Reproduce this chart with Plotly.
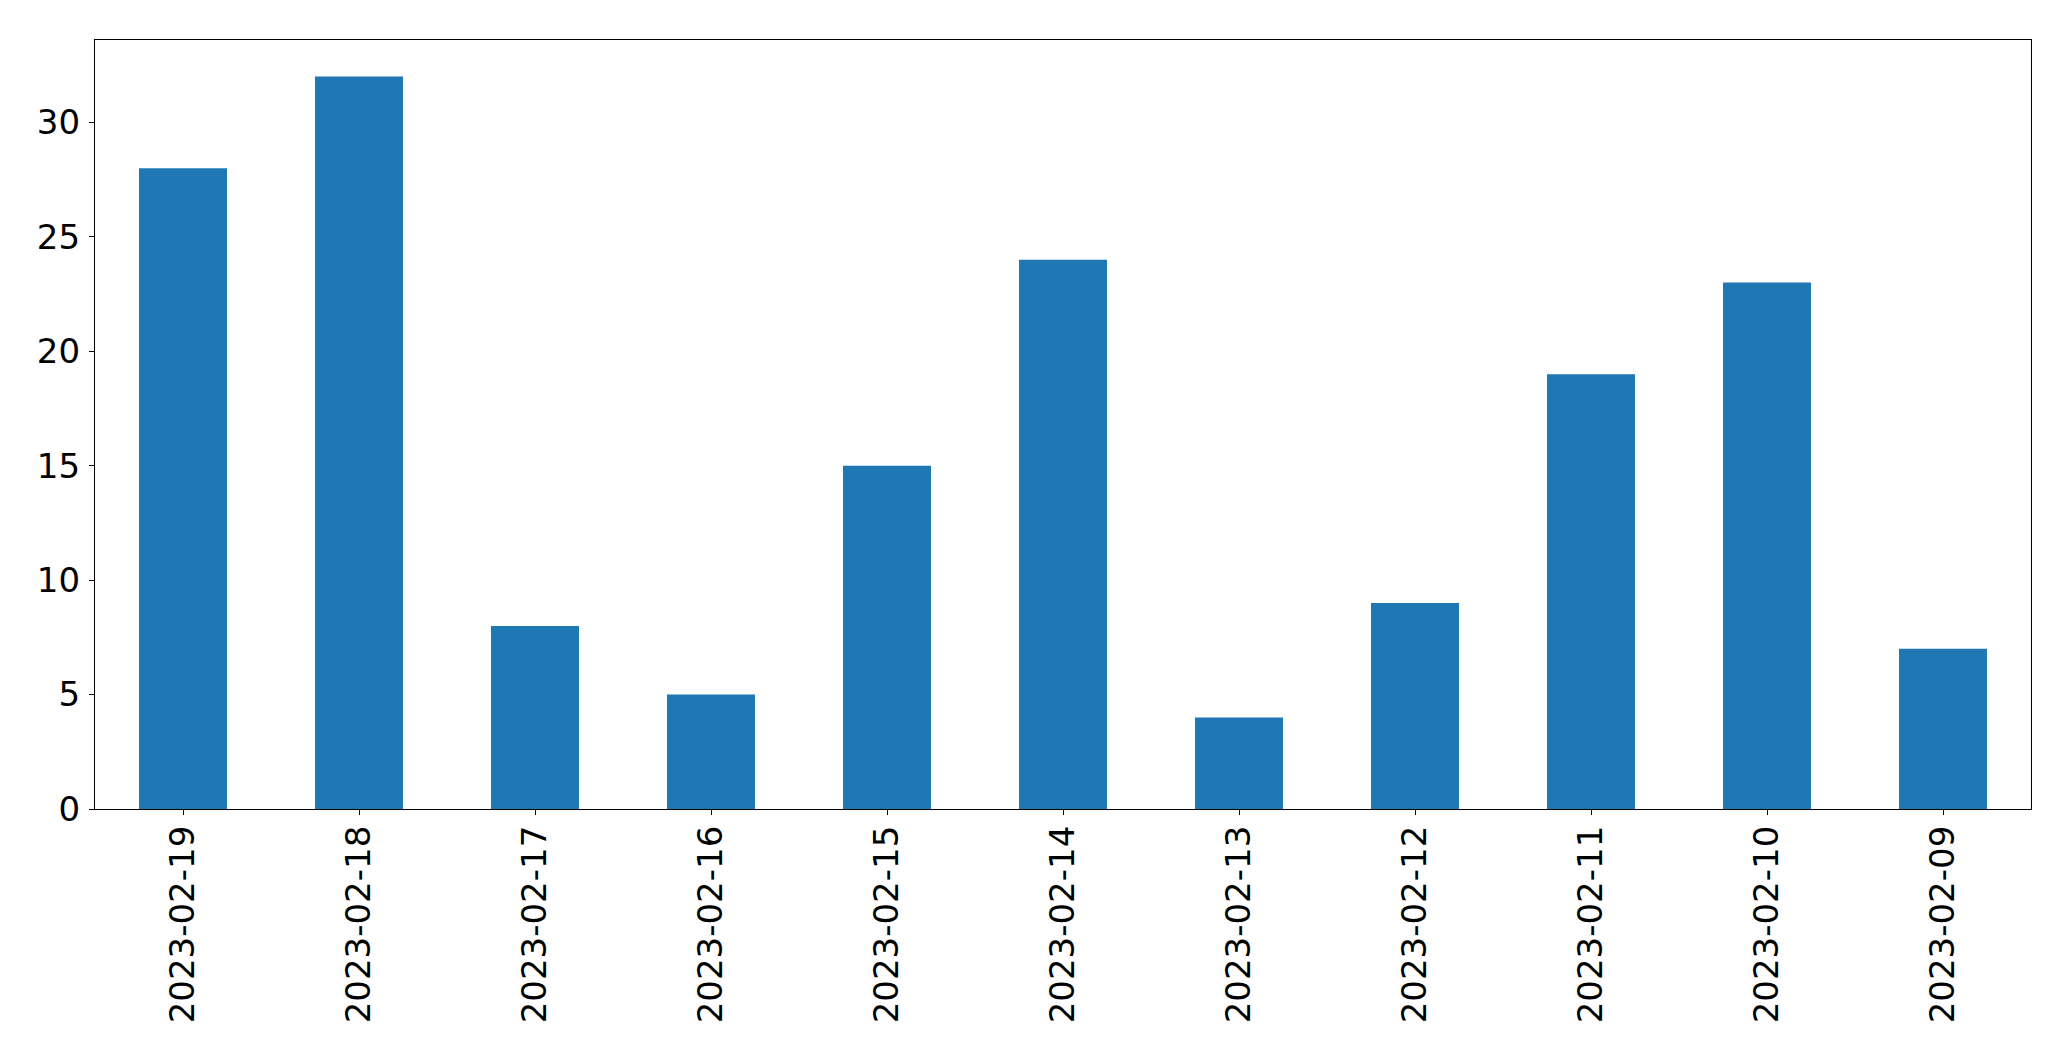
import plotly.graph_objects as go

dates = ["2023-02-19", "2023-02-18", "2023-02-17", "2023-02-16", "2023-02-15",
         "2023-02-14", "2023-02-13", "2023-02-12", "2023-02-11", "2023-02-10", "2023-02-09"]
counts = [28, 32, 8, 5, 15, 24, 4, 9, 19, 23, 7]
y_ticks = [0, 5, 10, 15, 20, 25, 30]

fig = go.Figure(go.Bar(
    x=list(range(len(dates))), y=counts, width=0.5,
    marker=dict(color="#1f77b4", line=dict(width=0)),
))

font = dict(family="DejaVu Sans", size=34, color="black")
fig.update_layout(
    width=2071, height=1061,
    margin=dict(l=94.5, r=39.5, t=39.5, b=252, autoexpand=False),
    paper_bgcolor="white", plot_bgcolor="white",
    showlegend=False, font=font,
)
fig.update_xaxes(
    range=[-0.5, len(dates) - 0.5],
    tickmode="array", tickvals=list(range(len(dates))), ticktext=dates,
    tickangle=-90, ticks="outside", ticklen=5, tickwidth=1.3, tickcolor="black",
    showline=True, linecolor="black", linewidth=1.3, mirror=True,
    showgrid=False, zeroline=False, tickfont=font, ticklabelstandoff=-3,
    automargin=False,
)
fig.update_yaxes(
    range=[0, 33.6], tickmode="array", tickvals=y_ticks,
    ticks="outside", ticklen=5, tickwidth=1.3, tickcolor="black",
    showline=True, linecolor="black", linewidth=1.3, mirror=True,
    showgrid=False, zeroline=False, tickfont=font, ticklabelstandoff=2,
    automargin=False,
)

fig.write_html(
    "out.html",
    config={"displayModeBar": False},
    post_script="document.body.style.margin='0';document.body.style.padding='0';document.body.style.overflow='hidden';",
)
